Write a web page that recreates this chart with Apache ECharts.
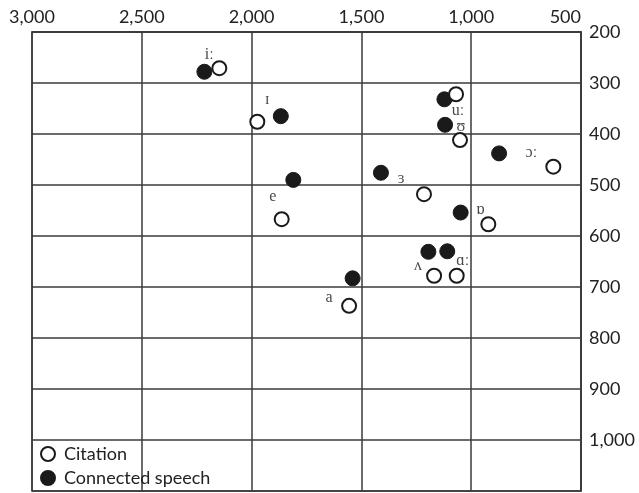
<!DOCTYPE html>
<html>
<head>
<meta charset="utf-8">
<script src="https://cdn.jsdelivr.net/npm/echarts@6/dist/echarts.min.js"></script>
<style>
  html, body { margin: 0; padding: 0; background: #fff; }
  #chart { width: 639px; height: 493px; }
</style>
</head>
<body>
<div id="chart"></div>
<script>
// ---- Data ----
const vowels = ['iː', 'ɪ', 'e', 'a', 'ʌ', 'ɑː', 'ɒ', 'ɔː', 'ʊ', 'uː', 'ɜ'];
const citationF2 = [2147, 1974, 1863, 1556, 1169, 1066, 922, 626, 1051, 1069, 1215];
const citationF1 = [271, 376, 567, 737, 678, 678, 577, 464, 412, 322, 518];
const connectedF2 = [2215, 1867, 1810, 1540, 1195, 1109, 1048, 873, 1119, 1122, 1411];
const connectedF1 = [278, 365, 490, 683, 631, 630, 554, 438, 382, 332, 476];
const xTickLabels = ['500', '1,000', '1,500', '2,000', '2,500', '3,000'];
const yTickLabels = ['200', '300', '400', '500', '600', '700', '800', '900', '1,000'];
const seriesNames = ['Citation', 'Connected speech'];

// ---- Styling (label offsets in pixels relative to citation points) ----
const labelOffsets = {
  'iː': [-10, -13], 'ɪ': [10, -22], 'e': [-9, -22], 'a': [-20, -8],
  'ʌ': [-16, -10], 'ɑː': [6, -15], 'ɒ': [-8, -14], 'ɔː': [-22, -14],
  'ʊ': [1, -13], 'uː': [2, 17], 'ɜ': [-23, -15]
};
const sansFont = "Lato, 'Open Sans', sans-serif";
const serifFont = "'Liberation Serif', 'DejaVu Serif', serif";
const lineColor = '#3a3a3a';

const chart = echarts.init(document.getElementById('chart'), null, { renderer: 'canvas' });

const citationData = vowels.map((v, i) => ({
  value: [citationF2[i], citationF1[i]],
  name: v,
  label: {
    show: true,
    formatter: v,
    position: 'inside',
    offset: labelOffsets[v],
    fontFamily: serifFont,
    fontSize: 16,
    color: '#4a4a4a'
  }
}));
const connectedData = vowels.map((v, i) => [connectedF2[i], connectedF1[i]]);

const xValues = xTickLabels.map(s => Number(s.replace(/,/g, '')));
const yValues = yTickLabels.map(s => Number(s.replace(/,/g, '')));

chart.setOption({
  animation: false,
  backgroundColor: '#fff',
  grid: {
    left: 32, right: 58, top: 32, bottom: 2,
    show: true, borderColor: lineColor, borderWidth: 1.5, backgroundColor: 'transparent'
  },
  legend: {
    data: [seriesNames[0], seriesNames[1]],
    orient: 'vertical',
    left: 40, top: 445,
    padding: 0,
    itemWidth: 14, itemHeight: 14,
    itemGap: 6,
    textStyle: { fontFamily: sansFont, fontSize: 18, color: '#222', padding: [0, 0, 0, 4] }
  },
  xAxis: {
    type: 'value',
    position: 'top',
    inverse: true,
    min: 500, max: 3000, interval: 500,
    axisLine: { show: true, lineStyle: { color: lineColor, width: 1.5 } },
    axisTick: { show: false },
    splitLine: { show: true, lineStyle: { color: lineColor, width: 1.5 } },
    axisLabel: {
      margin: 6,
      fontFamily: sansFont, fontSize: 18, color: '#222',
      alignMinLabel: 'right',
      formatter: v => { const i = xValues.indexOf(v); return i >= 0 ? xTickLabels[i] : ''; }
    }
  },
  yAxis: {
    type: 'value',
    position: 'right',
    inverse: true,
    min: 200, max: 1100, interval: 100,
    axisLine: { show: true, lineStyle: { color: lineColor, width: 1.5 } },
    axisTick: { show: false },
    splitLine: { show: true, lineStyle: { color: lineColor, width: 1.5 } },
    axisLabel: {
      margin: 8,
      fontFamily: sansFont, fontSize: 18, color: '#222',
      formatter: v => { const i = yValues.indexOf(v); return i >= 0 ? yTickLabels[i] : ''; }
    }
  },
  series: [
    {
      name: seriesNames[1],
      type: 'scatter',
      symbol: 'circle',
      symbolSize: 15,
      itemStyle: { color: '#1a1a1a', borderColor: '#1a1a1a', borderWidth: 1, opacity: 1 },
      data: connectedData,
      z: 2
    },
    {
      name: seriesNames[0],
      type: 'scatter',
      symbol: 'circle',
      symbolSize: 14,
      itemStyle: { color: '#fff', borderColor: '#1a1a1a', borderWidth: 2, opacity: 1 },
      data: citationData,
      z: 3
    }
  ]
});
</script>
</body>
</html>
